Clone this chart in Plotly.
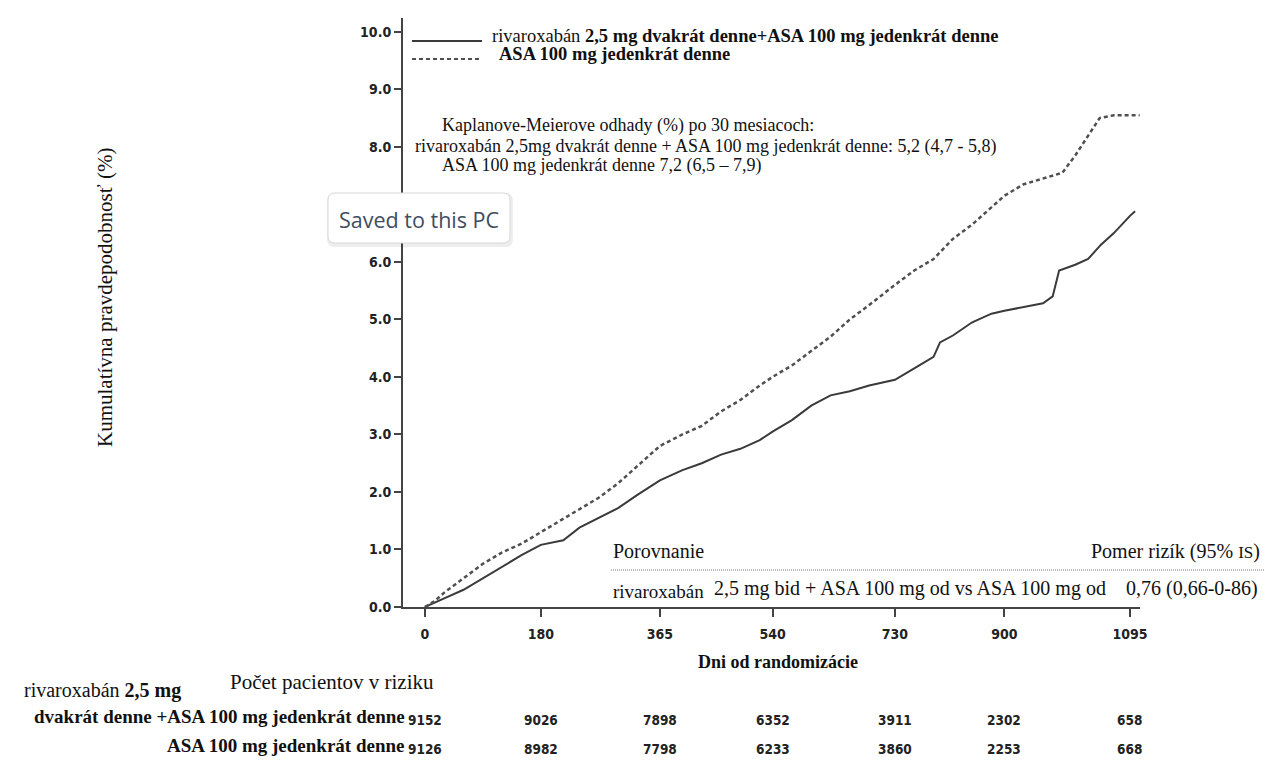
import plotly.graph_objects as go

# ---------------- data ----------------
days_riva = [0, 15, 30, 60, 90, 120, 150, 180, 200, 215, 240, 270, 300, 330, 365, 400, 430,
             460, 490, 520, 540, 570, 600, 630, 660, 690, 730, 760, 790, 800, 820, 850, 880,
             900, 930, 960, 975, 985, 1010, 1030, 1050, 1070, 1095, 1103]
cum_riva = [0.0, 0.08, 0.15, 0.30, 0.50, 0.70, 0.90, 1.08, 1.12, 1.16, 1.38, 1.55, 1.72, 1.95,
            2.20, 2.38, 2.50, 2.65, 2.75, 2.90, 3.05, 3.25, 3.50, 3.68, 3.75, 3.85, 3.95, 4.15,
            4.35, 4.60, 4.72, 4.95, 5.10, 5.15, 5.22, 5.28, 5.40, 5.85, 5.95, 6.05, 6.30, 6.50,
            6.80, 6.88]

days_asa = [0, 15, 30, 60, 90, 120, 150, 180, 210, 240, 270, 300, 330, 365, 400, 430, 460,
            490, 520, 540, 570, 600, 630, 660, 690, 730, 760, 790, 820, 850, 880, 900, 930,
            960, 990, 1010, 1030, 1048, 1070, 1095, 1110]
cum_asa = [0.0, 0.10, 0.25, 0.50, 0.75, 0.95, 1.10, 1.30, 1.50, 1.70, 1.90, 2.15, 2.45, 2.80,
           3.00, 3.15, 3.40, 3.60, 3.85, 4.00, 4.20, 4.45, 4.70, 5.00, 5.25, 5.60, 5.85, 6.05,
           6.40, 6.65, 6.95, 7.15, 7.35, 7.45, 7.55, 7.85, 8.20, 8.50, 8.55, 8.55, 8.55]

x_ticks = [0, 180, 365, 540, 730, 900, 1095]
y_ticks = [0, 1, 2, 3, 4, 5, 6, 7, 8, 9, 10]
y_labels = ["0.0", "1.0", "2.0", "3.0", "4.0", "5.0", "6.0", "", "8.0", "9.0", "10.0"]

risk_riva = [9152, 9026, 7898, 6352, 3911, 2302, 658]
risk_asa = [9126, 8982, 7798, 6233, 3860, 2253, 668]

# ---------------- geometry helpers (reference pixel -> paper) ----------------
OFF = 8                      # page body margin
W, H = 1274 - 2 * OFF, 767 - 2 * OFF
L, R, T, B = 403, 1140, 18, 607   # plot area in reference pixels


def px(x):
    return (x - L) / (R - L)


def py(y):
    return (B - y) / (B - T)


SERIF = "Liberation Serif, Times New Roman, serif"
SANS_C = "DejaVu Sans Condensed, Liberation Sans Narrow, Arial Narrow, sans-serif"
LINE_C = "#3a3a3a"

fig = go.Figure()
fig.add_trace(go.Scatter(x=days_riva, y=cum_riva, mode="lines",
                         line=dict(color=LINE_C, width=2), showlegend=False,
                         name="rivaroxabán 2,5 mg dvakrát denne+ASA 100 mg jedenkrát denne"))
fig.add_trace(go.Scatter(x=days_asa, y=cum_asa, mode="lines",
                         line=dict(color="#505050", width=2.5, dash="4px,3px"), showlegend=False,
                         name="ASA 100 mg jedenkrát denne"))

ann = []


def text(x, y, s, size, xanchor="left", bold=False, color="#111", family=SERIF):
    ann.append(dict(x=px(x), y=py(y), xref="paper", yref="paper",
                    text=s, showarrow=False, xanchor=xanchor, yanchor="middle",
                    font=dict(family=family, size=size, color=color,
                              weight="bold" if bold else "normal")))


# legend
text(490, 36, "rivaroxabán <b>2,5 mg dvakrát denne+ASA 100 mg jedenkrát denne</b>", 18.5)
text(497, 54, "<b>ASA 100 mg jedenkrát denne</b>", 18.5)

# KM estimates
text(440, 125, "Kaplanove-Meierove odhady (%) po 30 mesiacoch:", 18)
text(413, 146, "rivaroxabán 2,5mg dvakrát denne + ASA 100 mg jedenkrát denne: 5,2 (4,7 - 5,8)", 18)
text(440, 165, "ASA 100 mg jedenkrát denne 7,2 (6,5 – 7,9)", 18)

# HR box
text(611, 551, "Porovnanie", 20)
text(1262, 551, "Pomer rizík (95% <span style='font-size:17px'>IS</span>)", 20, xanchor="right")
text(611, 591, "rivaroxabán", 19)
text(712, 588, "2,5 mg bid + ASA 100 mg od vs ASA 100 mg od", 20)
text(1260, 588, "0,76 (0,66-0-86)", 20, xanchor="right")

# axis titles
text(778, 662, "<b>Dni od randomizácie</b>", 18, xanchor="center")
ann.append(dict(x=px(105), y=py(298), xref="paper", yref="paper", text="Kumulatívna pravdepodobnosť (%)",
                showarrow=False, textangle=-90, xanchor="center", yanchor="middle",
                font=dict(family=SERIF, size=21, color="#111")))

# at-risk table
text(332, 682, "Počet pacientov v riziku", 21, xanchor="center")
text(22, 690, "rivaroxabán <b>2,5 mg</b>", 20)
text(407, 716, "<b>dvakrát denne +ASA 100 mg jedenkrát denne</b>", 19, xanchor="right")
text(407, 745, "<b>ASA 100 mg jedenkrát denne</b>", 19, xanchor="right")
for d, a, b in zip(x_ticks, risk_riva, risk_asa):
    ann.append(dict(x=d, y=py(720), xref="x", yref="paper", text=str(a), showarrow=False,
                    xanchor="center", yanchor="middle",
                    font=dict(family=SANS_C, size=13.5, color="#222", weight="bold")))
    ann.append(dict(x=d, y=py(749), xref="x", yref="paper", text=str(b), showarrow=False,
                    xanchor="center", yanchor="middle",
                    font=dict(family=SANS_C, size=13.5, color="#222", weight="bold")))

# popup toast text
text(419, 219, "Saved to this PC", 21.5, xanchor="center", color="#3f4d60",
     family="Open Sans, Noto Sans, sans-serif")

shapes = []
# legend samples
shapes.append(dict(type="line", xref="paper", yref="paper", x0=px(412), x1=px(482), y0=py(41), y1=py(41),
                   line=dict(color=LINE_C, width=2)))
shapes.append(dict(type="line", xref="paper", yref="paper", x0=px(412), x1=px(482), y0=py(59), y1=py(59),
                   line=dict(color="#505050", width=2, dash="4px,3px")))
# HR box dotted separator
shapes.append(dict(type="line", xref="paper", yref="paper", x0=px(611), x1=px(1265), y0=py(570), y1=py(570),
                   line=dict(color="#777", width=1, dash="1px,1px")))


def rrect(x0, y0, x1, y1, r):
    pts = [("M", [(x0 + r, y0)]), ("L", [(x1 - r, y0)]), ("Q", [(x1, y0), (x1, y0 + r)]),
           ("L", [(x1, y1 - r)]), ("Q", [(x1, y1), (x1 - r, y1)]), ("L", [(x0 + r, y1)]),
           ("Q", [(x0, y1), (x0, y1 - r)]), ("L", [(x0, y0 + r)]), ("Q", [(x0, y0), (x0 + r, y0)])]
    s = ""
    for cmd, ps in pts:
        s += cmd + " " + " ".join(f"{px(a):.5f},{py(b):.5f}" for a, b in ps) + " "
    return s + "Z"


shapes.append(dict(type="path", xref="paper", yref="paper", path=rrect(327, 193, 513, 247, 8),
                   fillcolor="rgba(0,0,0,0.07)", line=dict(width=0), layer="above"))
shapes.append(dict(type="path", xref="paper", yref="paper", path=rrect(328, 193, 510, 243, 7),
                   fillcolor="white", line=dict(color="#d9d9d9", width=1), layer="above"))

fig.update_layout(
    width=W, height=H,
    margin=dict(l=L - OFF, r=W - (R - OFF), t=T - OFF, b=H - (B - OFF), pad=0),
    paper_bgcolor="white", plot_bgcolor="white",
    showlegend=False,
    annotations=ann, shapes=shapes,
    xaxis=dict(range=[-34, 1110.6], tickvals=x_ticks, ticktext=[str(v) for v in x_ticks],
               showgrid=False, zeroline=False, showline=True, linecolor="#444", linewidth=2,
               ticks="outside", ticklen=8, tickwidth=2, tickcolor="#444", ticklabelstandoff=5,
               tickfont=dict(family=SANS_C, size=14, color="#222", weight="bold")),
    yaxis=dict(range=[0, 10.24], tickvals=y_ticks, ticktext=y_labels,
               showgrid=False, zeroline=False, showline=True, linecolor="#444", linewidth=2,
               ticks="outside", ticklen=7, tickwidth=2, tickcolor="#444",
               tickfont=dict(family=SANS_C, size=14, color="#222", weight="bold")),
)

fig.write_html("out.html")
